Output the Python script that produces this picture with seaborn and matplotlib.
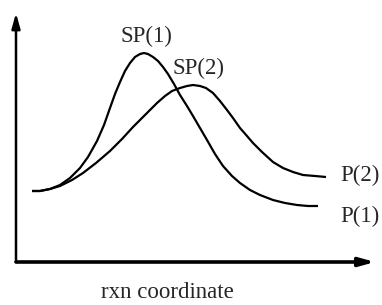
import matplotlib
matplotlib.use("Agg")
import matplotlib.pyplot as plt
import seaborn as sns
import pandas as pd

sns.set_style("white")
plt.rcParams['font.family'] = ['Liberation Serif', 'DejaVu Serif']

# reaction coordinate / energy values
x1 = [16, 24, 34, 44, 54, 64, 72, 81, 88, 94, 99, 104, 109, 114, 119, 124, 128, 132, 137, 142,
      147, 152, 158, 164, 171, 177, 184, 191, 199, 207, 216, 224, 234, 244, 257, 269, 281, 292, 302]
e1 = [71, 71, 73, 77, 84, 94, 105, 121, 137, 154, 168, 180, 191, 199, 205, 208, 209, 208, 205, 201,
      195, 188, 178, 167, 156, 146, 134, 122, 108, 96, 86, 79, 72, 67, 62, 59, 57, 56, 56]
x2 = [16, 24, 34, 44, 56, 67, 80, 94, 106, 117, 129, 141, 149, 156, 164, 171, 177, 184, 190, 197,
      204, 211, 217, 224, 231, 237, 246, 257, 267, 277, 287, 299, 310]
e2 = [71, 71, 73, 76, 82, 89, 99, 111, 123, 135, 147, 159, 166, 171, 174, 176, 177, 176, 174, 169,
      161, 152, 144, 134, 126, 119, 110, 100, 94, 90, 87, 86, 85]
labels = ["SP(1)", "SP(2)", "P(1)", "P(2)"]
xlabel = "rxn coordinate"

W, H = 382, 305
fig = plt.figure(figsize=(W / 100, H / 100), dpi=100)
ax = fig.add_axes([16 / W, (H - 262) / H, (375 - 16) / W, (262 - 13) / H])
ax.set_xlim(0, 359)
ax.set_ylim(0, 249)

df1 = pd.DataFrame({"x": x1, "e": e1})
df2 = pd.DataFrame({"x": x2, "e": e2})
for d in (df1, df2):
    sns.lineplot(data=d, x="x", y="e", ax=ax, color="black", lw=1.6, sort=False,
                 solid_joinstyle="round", solid_capstyle="butt")
ax.set_axis_off()

# axes arrows
ax.annotate("", xy=(0, 1), xytext=(0, 0), xycoords="axes fraction",
            arrowprops=dict(arrowstyle="-|>,head_length=0.9,head_width=0.25",
                            color="black", lw=1.8, shrinkA=0, shrinkB=0))
ax.annotate("", xy=(1, 0), xytext=(0, 0), xycoords="axes fraction",
            arrowprops=dict(arrowstyle="-|>,head_length=0.9,head_width=0.25",
                            color="black", lw=2.6, shrinkA=0, shrinkB=0))

fs = 16.5
def ftext(px, py, s, **kw):
    fig.text(px / W, 1 - py / H, s, fontsize=fs, ha="center", va="center", **kw)

ftext(146, 36, labels[0])
ftext(198, 68, labels[1])
ftext(360, 216, labels[2])
ftext(360, 175, labels[3])
ftext(167, 292, xlabel)

fig.savefig("out.png", dpi=100, facecolor="white")
